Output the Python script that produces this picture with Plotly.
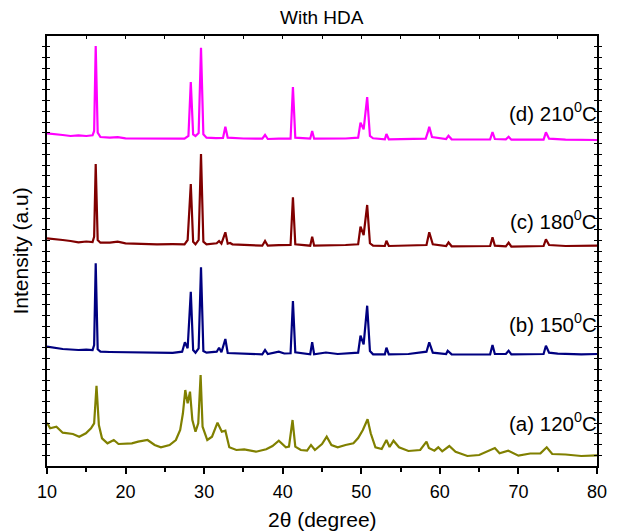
import plotly.graph_objects as go

# XRD patterns (2theta in degrees, intensity in arbitrary units incl. vertical offset)
d_pts = [(10.0, 332.7), (11.0, 331.5), (12.0, 331), (13.0, 330), (14.0, 330.7), (15.0, 330), (15.8, 330.7),
         (16.0, 335), (16.2, 420), (16.45, 333.3), (16.8, 329), (18.0, 328.3), (19.0, 328.8), (20.0, 327.7),
         (22.0, 327.5), (24.0, 327.3), (26.0, 327.6), (27.5, 327.3), (28.0, 330), (28.3, 384), (28.6, 331.7),
         (28.9, 330), (29.3, 333), (29.6, 418.3), (29.9, 331.7), (30.3, 328.3), (31.5, 327.8), (32.4, 328),
         (32.7, 339.3), (33.0, 328.3), (35.0, 327.5), (37.4, 327.3), (37.75, 331), (38.1, 327), (39.5, 327.4),
         (41.0, 327.3), (41.3, 379), (41.6, 328.3), (43.5, 327.3), (43.75, 335), (44.0, 327.3), (46.0, 327.2),
         (48.0, 327.5), (49.6, 328.3), (49.9, 343.3), (50.3, 336.7), (50.75, 369), (51.1, 330), (51.5, 327.7),
         (53.0, 326.7), (53.2, 332), (53.5, 326.7), (56.0, 326.8), (58.2, 327.3), (58.45, 333.3), (58.65, 339.3),
         (59.0, 329), (60.8, 327), (61.1, 330.3), (61.5, 326.7), (64.0, 326.5), (66.4, 326.7), (66.7, 334),
         (67.0, 327), (68.4, 326.7), (68.75, 329.3), (69.1, 326.3), (71.0, 326.4), (73.2, 326.3), (73.5, 333.7),
         (73.9, 327.3), (76.0, 326.3), (78.0, 326.2), (80.0, 326)]

c_pts = [(10.0, 227.7), (11.0, 226.5), (12.0, 226), (13.0, 225), (14.0, 223.7), (15.0, 224.5), (15.8, 224),
         (16.0, 229.3), (16.2, 302), (16.45, 226), (16.8, 223.3), (18.0, 223.3), (19.0, 224.3), (20.0, 222.7),
         (22.0, 222), (24.0, 221.7), (26.0, 221.8), (27.5, 221.7), (27.9, 226), (28.3, 282), (28.6, 224.3),
         (28.9, 221.7), (29.3, 226), (29.6, 312), (29.9, 224.3), (30.3, 221.7), (31.6, 222.7), (31.9, 225),
         (32.2, 222.3), (32.7, 233.7), (33.0, 222.3), (33.3, 223), (33.6, 221.7), (35.5, 221), (37.4, 220.3),
         (37.75, 225), (38.1, 220.3), (39.5, 220.8), (41.0, 221), (41.3, 268.7), (41.6, 221.7), (43.5, 220.3),
         (43.75, 229.3), (44.0, 220.3), (46.0, 220.5), (48.0, 221), (49.6, 221.7), (49.9, 239.3), (50.3, 231),
         (50.75, 261), (51.1, 222.7), (51.5, 220.3), (53.0, 220), (53.2, 225.3), (53.5, 220), (56.0, 220.3),
         (58.3, 221), (58.65, 233.7), (59.1, 221.7), (60.8, 220), (61.1, 223.7), (61.5, 219.7), (64.0, 220),
         (66.4, 220), (66.7, 228.7), (67.0, 220.3), (68.4, 219.7), (68.75, 223.3), (69.1, 219.3), (71.0, 219.7),
         (73.2, 220), (73.5, 226.7), (73.9, 221), (76.0, 220), (78.0, 220.2), (80.0, 220.3)]

b_pts = [(10.0, 119.3), (11.0, 118), (12.0, 117), (13.0, 116.5), (14.0, 116), (15.0, 116.3), (15.8, 116),
         (16.0, 121), (16.2, 202.7), (16.45, 116.7), (16.8, 114.3), (18.0, 114), (20.0, 113.7), (22.0, 113.5),
         (24.0, 113), (26.0, 113.2), (27.2, 114.3), (27.55, 123.7), (27.9, 117.7), (28.3, 174.3), (28.6, 116),
         (28.9, 113.3), (29.3, 117.7), (29.6, 198.7), (29.9, 115), (30.3, 113.3), (31.6, 114.3), (31.9, 118.3),
         (32.2, 113.7), (32.7, 127), (33.0, 113), (35.0, 112.5), (37.4, 111.7), (37.75, 116), (38.1, 112),
         (39.5, 114.3), (40.2, 112.5), (41.0, 112.7), (41.3, 165), (41.6, 113.7), (43.5, 111.7), (43.75, 123.7),
         (44.0, 111.7), (45.5, 113.5), (47.0, 112), (49.6, 113.3), (49.9, 130.3), (50.3, 121.7), (50.75, 160.3),
         (51.1, 115), (51.5, 111.7), (53.0, 111.7), (53.2, 118.3), (53.5, 111.7), (56.0, 112), (58.3, 114.3),
         (58.65, 123.7), (59.1, 113.3), (60.8, 112), (61.0, 115.3), (61.5, 111.7), (64.0, 111.5), (66.4, 111.7),
         (66.7, 121), (67.0, 112), (68.4, 112), (68.75, 115.3), (69.1, 111.7), (71.0, 111.5), (73.2, 112),
         (73.5, 120.3), (73.9, 113.3), (75.0, 112.3), (76.0, 112), (78.0, 111.7), (80.0, 112)]

a_pts = [(10.0, 43.3), (10.4, 37.7), (11.2, 39.3), (12.0, 33.3), (13.3, 32), (14.1, 29.3), (14.95, 32.7),
         (15.6, 37.7), (16.0, 42.7), (16.3, 80.3), (16.6, 41), (17.0, 27.7), (17.7, 22.7), (18.5, 26), (19.1, 22),
         (20.8, 22.7), (21.6, 24.3), (22.8, 26), (23.7, 21), (24.5, 18.7), (25.6, 21), (26.4, 26), (26.95, 36),
         (27.3, 52.7), (27.6, 76), (27.9, 62.7), (28.2, 74.3), (28.5, 46), (28.9, 34.3), (29.25, 42.7),
         (29.55, 91), (29.8, 39.3), (30.4, 26), (31.0, 29.3), (31.7, 43.3), (32.25, 34.3), (32.7, 35.3),
         (33.2, 18.7), (34.1, 16), (35.1, 16.7), (36.6, 14.3), (37.9, 16.7), (38.7, 20), (39.5, 25.3),
         (40.4, 18.7), (40.8, 19.5), (41.25, 46), (41.6, 19.3), (42.3, 16), (43.1, 15.3), (43.6, 21), (44.1, 16),
         (45.0, 22), (45.6, 29.3), (46.2, 21), (47.0, 18.7), (48.0, 21), (49.0, 22.7), (49.6, 28), (50.2, 36),
         (50.8, 46.7), (51.2, 32.7), (51.8, 18.7), (52.6, 17), (53.2, 26), (53.6, 19), (54.1, 25.3), (54.8, 18.7),
         (56.0, 15), (57.5, 16), (58.3, 24.3), (58.6, 18), (59.3, 15.3), (59.8, 18.7), (60.3, 14.7), (61.2, 20),
         (62.0, 14.3), (63.5, 10), (65.0, 11), (67.0, 18), (67.6, 12.7), (68.7, 15.3), (70.0, 10.3), (71.5, 12.5),
         (72.8, 12.7), (73.6, 18.7), (74.3, 12), (76.0, 11.5), (78.0, 10), (80.0, 10.7)]

series_names = ["(a) 120<sup>0</sup>C", "(b) 150<sup>0</sup>C", "(c) 180<sup>0</sup>C", "(d) 210<sup>0</sup>C"]
series_colors = ["#808000", "#000080", "#800000", "#FF00FF"]
label_y = [44, 143, 246, 354]
x_ticks = [10, 20, 30, 40, 50, 60, 70, 80]

FONT = "Liberation Sans, Arial, sans-serif"

fig = go.Figure()
all_pts = [a_pts, b_pts, c_pts, d_pts]
for i, (pts, col, name) in enumerate(zip(all_pts, series_colors, series_names)):
    fig.add_trace(go.Scatter(
        x=[p[0] for p in pts], y=[p[1] for p in pts], mode="lines",
        line=dict(color=col, width=2.2), name=name, showlegend=False,
        xaxis="x2" if i == 0 else "x", hoverinfo="skip"))

for name, ly, col in zip(series_names, label_y, series_colors):
    fig.add_annotation(x=80, y=ly, xref="x", yref="y", text=name, showarrow=False, xshift=2,
                       xanchor="right", yanchor="middle", font=dict(family=FONT, size=20.5, color="black"))

fig.add_annotation(x=0.5, y=1.043, xref="paper", yref="paper", text="With HDA", showarrow=False,
                   xanchor="center", yanchor="middle", font=dict(family=FONT, size=19, color="black"))
fig.add_annotation(x=0.5, y=-0.125, xref="paper", yref="paper", text="2θ (degree)", showarrow=False,
                   xanchor="center", yanchor="middle", font=dict(family=FONT, size=21, color="black"))
fig.add_annotation(x=-0.05, y=0.5, xref="paper", yref="paper", text="Intensity (a.u)", showarrow=False,
                   textangle=-90, xanchor="center", yanchor="middle", font=dict(family=FONT, size=21, color="black"))

fig.update_layout(
    width=617, height=532, margin=dict(l=47, r=10, t=36, b=66),
    paper_bgcolor="white", plot_bgcolor="white", font=dict(family=FONT, color="black"),
    xaxis=dict(range=[10, 80], tickvals=x_ticks, ticks="outside", ticklen=6, tickwidth=1.5, tickcolor="black",
               showline=True, linewidth=2, linecolor="black", showgrid=False, zeroline=False,
               minor=dict(ticks="outside", ticklen=4, dtick=5, tickwidth=1.5, tickcolor="black", showgrid=False),
               tickfont=dict(family=FONT, size=18, color="black"), ticklabelstandoff=2),
    xaxis2=dict(range=[10, 80], overlaying="x", side="top", dtick=5, ticks="inside", ticklen=3, tickwidth=1,
                tickcolor="black", showticklabels=False, showline=True, linewidth=2, linecolor="black",
                showgrid=False, zeroline=False),
    yaxis=dict(range=[0, 430], dtick=10.75, tick0=0, ticks="inside", ticklen=3, tickwidth=1, tickcolor="black",
               showticklabels=False, showline=True, linewidth=2, linecolor="black", mirror="allticks",
               showgrid=False, zeroline=False),
)

fig.write_html("out.html")
